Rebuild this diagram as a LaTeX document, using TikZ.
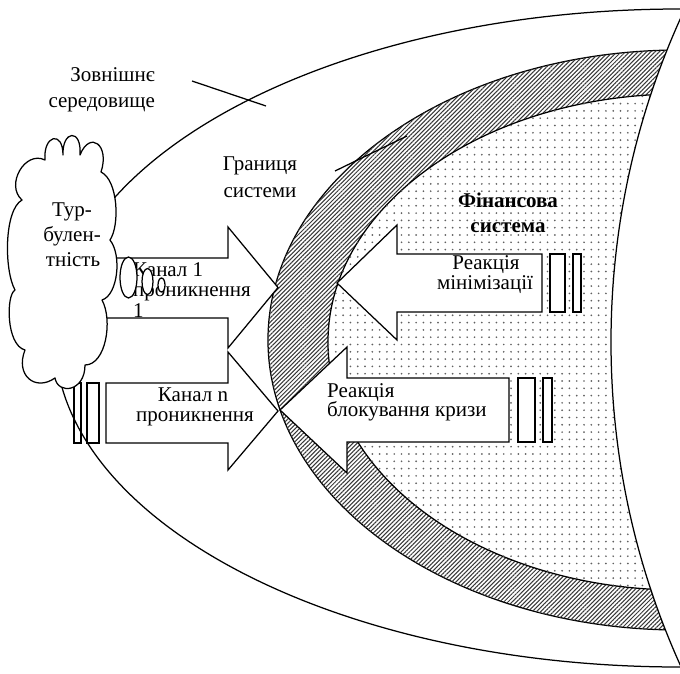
\documentclass[tikz,border=0pt]{standalone}
\usepackage{fontspec}
\setmainfont{Liberation Serif}
\usetikzlibrary{patterns.meta}
\begin{document}
\begin{tikzpicture}[x=1pt,y=-1pt,
  ln/.style={line width=1.25pt, line join=miter},
  hatchfill/.style={fill=white, postaction={pattern={Lines[angle=45,distance=3pt,line width=1.05pt]}, pattern color=black!78}},
  dotfill/.style={fill=white, postaction={pattern={Dots[distance=7.3pt,radius=0.95pt]}, pattern color=black!62}},
  txt/.style={font=\fontsize{21}{23}\selectfont, inner sep=0pt},
  btxt/.style={font=\fontsize{21}{23}\selectfont\bfseries, inner sep=0pt},
  barbox/.style={ln, fill=white},
  arrowbox/.style={ln, fill=white},
  cloudline/.style={line width=1.25pt, line join=round, fill=white}]
\useasboundingbox (0,0) rectangle (680,673);
% regions
\draw[ln, hatchfill] (680,340) ellipse [x radius=412, y radius=290];
\draw[ln, dotfill] (680,342) ellipse [x radius=352, y radius=248];
\draw[ln, fill=white] (1397,342) circle [radius=786];
\draw[ln] (680,338) ellipse [x radius=625, y radius=329];
% pointer lines
\coordinate (p1a) at (192,81);
\coordinate (p1b) at (266,106);
\coordinate (p2a) at (335,171);
\coordinate (p2b) at (407,136);
\draw[ln] (p1a) -- (p1b);
\draw[ln] (p2a) -- (p2b);
% channel arrow n bars
\draw[ln] (74,383) rectangle (81,443);
\draw[ln] (87,383) rectangle (99,443);
% channel arrows
\draw[arrowbox] (100,258) -- (228,258) -- (228,227) -- (278,287.5) -- (228,348) -- (228,318) -- (100,318) -- cycle;
\draw[arrowbox] (106,383) -- (228,383) -- (228,352) -- (278,411) -- (228,470) -- (228,443) -- (106,443) -- cycle;
% reaction arrows
\draw[arrowbox] (542,254) -- (397,254) -- (397,225) -- (337,283) -- (397,340) -- (397,312) -- (542,312) -- cycle;
\draw[barbox] (550,254) rectangle (565,312);
\draw[barbox] (573,254) rectangle (581,312);
\draw[arrowbox] (509,378) -- (347,378) -- (347,347) -- (280,410) -- (347,473) -- (347,442) -- (509,442) -- cycle;
\draw[barbox] (518,378) rectangle (535,442);
\draw[barbox] (543,378) rectangle (552,442);
% cloud
\draw[cloudline] (22,200) .. controls (5,185) and (25,150) .. (45,160)
  .. controls (43,135) and (63,130) .. (63,155)
  .. controls (62,130) and (82,128) .. (80,155)
  .. controls (90,130) and (110,145) .. (101,172)
  .. controls (118,180) and (120,225) .. (110,240)
  .. controls (122,255) and (118,295) .. (102,300)
  .. controls (113,320) and (106,365) .. (85,365)
  .. controls (85,392) and (58,395) .. (55,378)
  .. controls (35,392) and (15,375) .. (25,350)
  .. controls (6,345) and (6,295) .. (15,290)
  .. controls (4,270) and (4,210) .. (22,200) -- cycle;
% texts
\node[txt, anchor=base east] (env1) at (155,81) {Зовнішнє};
\node[txt, anchor=base east] (env2) at (155,107) {середовище};
\node[txt, anchor=base] (bnd1) at (260,170) {Границя};
\node[txt, anchor=base] (bnd2) at (260,197) {системи};
\node[btxt, anchor=base] (fin1) at (508,207) {Фінансова};
\node[btxt, anchor=base] (fin2) at (508,232) {система};
\node[txt, anchor=base] (tur1) at (72,216) {Тур-};
\node[txt, anchor=base] (tur2) at (72,241) {булен-};
\node[txt, anchor=base] (tur3) at (73,266) {тність};
\node[txt, anchor=base west] (ch1a) at (133,276) {Канал 1};
\node[txt, anchor=base west] (ch1b) at (133,296) {проникнення};
\node[txt, anchor=base west] (ch1c) at (133,317) {1};
\node[txt, anchor=base] (chna) at (193,401) {Канал n};
\node[txt, anchor=base] (chnb) at (195,421) {проникнення};
\node[txt, anchor=base] (rm1) at (486,269) {Реакція};
\node[txt, anchor=base] (rm2) at (485,289) {мінімізації};
\node[txt, anchor=base west] (rb1) at (327,397) {Реакція};
\node[txt, anchor=base west] (rb2) at (327,416) {блокування кризи};
% bubbles in channel 1
\draw[ln, fill=white] (128.5,277.5) ellipse [x radius=8.5, y radius=20.5];
\draw[ln, fill=white] (147.5,281.5) ellipse [x radius=5.5, y radius=13];
\draw[ln, fill=white] (161.5,285) ellipse [x radius=3.5, y radius=7];
\end{tikzpicture}
\end{document}
